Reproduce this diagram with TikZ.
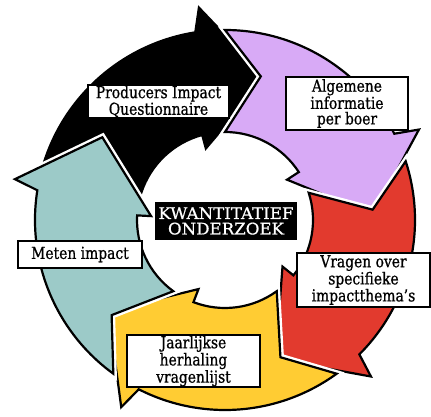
\documentclass[tikz,border=0pt]{standalone}
\usepackage{fontspec}
\setmainfont{DejaVu Serif}[FakeStretch=0.84, FakeBold=0.8]
\newfontfamily\corefont{DejaVu Serif}[FakeStretch=1.04, FakeBold=0.8]
\usepackage{tikz}
\usetikzlibrary{positioning}

\definecolor{arpurple}{RGB}{216,170,246}
\definecolor{arred}{RGB}{226,58,46}
\definecolor{aryellow}{RGB}{255,204,51}
\definecolor{arteal}{RGB}{156,202,200}

\tikzset{
  ringarrow/.style={
    draw=black,
    line width=2.2pt,
    preaction={draw=white, line width=7pt}},
  label box/.style={
    rectangle,
    draw,
    line width=2pt,
    fill=white,
    align=center,
    inner sep=1pt,
    font=\fontsize{16.5}{15.5}\selectfont}
}

\begin{document}
\begin{tikzpicture}
  \useasboundingbox (-225pt,-197pt) rectangle (206pt,220pt);

  % five arrows round the ring, tail angle / colour
  \foreach \t/\c in {162/black, 90/arpurple, 18/arred, -54/aryellow, -126/arteal}{
    \fill[ringarrow, fill=\c]
      (\t:190pt) arc[start angle=\t, end angle=\t-63, radius=190pt]
      -- (\t-65:214pt) -- (\t-88:148pt) -- (\t-57:74pt) -- (\t-57:88pt)
      arc[start angle=\t-57, end angle=\t, radius=88pt]
      -- (\t-14:148pt) -- cycle;
  }

  \node[label box, minimum width=141pt, minimum height=33pt] (piq) at (-66.5pt,118.5pt)
    {Producers Impact\\Questionnaire};
  \node[label box, minimum width=122pt, minimum height=53pt] (info) at (122pt,116.5pt)
    {Algemene\\informatie\\per boer};
  \node[label box, minimum width=133pt, minimum height=54pt] (themes) at (138.5pt,-60pt)
    {Vragen over\\specifieke\\impactthema's};
  \node[label box, minimum width=133pt, minimum height=52pt] (yearly) at (-31.5pt,-141pt)
    {Jaarlijkse\\herhaling\\vragenlijst};
  \node[label box, minimum width=124pt, minimum height=27pt] (measure) at (-145pt,-34.5pt)
    {Meten impact};

  \node[
  rectangle,
  fill=black,
  text=white,
  align=center,
  minimum width=142pt,
  minimum height=38pt,
  inner sep=1pt,
  font=\corefont\fontsize{16}{15.5}\selectfont] (core) at (1pt,-1pt) {KWANTITATIEF\\ONDERZOEK};
\end{tikzpicture}
\end{document}
